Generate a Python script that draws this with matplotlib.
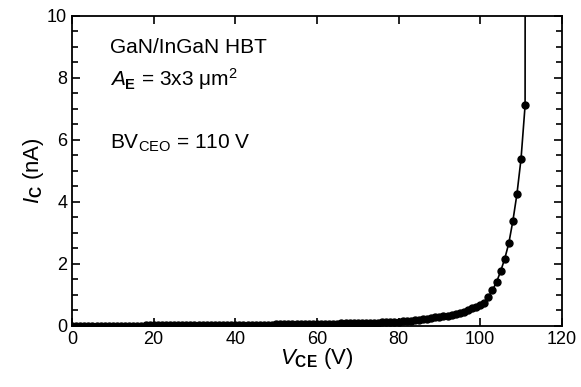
import matplotlib
matplotlib.use("Agg")
import matplotlib.pyplot as plt
from matplotlib.ticker import MultipleLocator

plt.rcParams['font.family'] = ['Liberation Sans', 'DejaVu Sans']
plt.rcParams['mathtext.fontset'] = 'custom'
plt.rcParams['mathtext.rm'] = 'Liberation Sans'
plt.rcParams['mathtext.it'] = 'Liberation Sans:italic'
plt.rcParams['mathtext.bf'] = 'Liberation Sans:bold'

# collector-emitter voltage (V), one point per volt
vce = [0, 1, 2, 3, 4, 5, 6, 7, 8, 9,
       10, 11, 12, 13, 14, 15, 16, 17, 18, 19,
       20, 21, 22, 23, 24, 25, 26, 27, 28, 29,
       30, 31, 32, 33, 34, 35, 36, 37, 38, 39,
       40, 41, 42, 43, 44, 45, 46, 47, 48, 49,
       50, 51, 52, 53, 54, 55, 56, 57, 58, 59,
       60, 61, 62, 63, 64, 65, 66, 67, 68, 69,
       70, 71, 72, 73, 74, 75, 76, 77, 78, 79,
       80, 81, 82, 83, 84, 85, 86, 87, 88, 89,
       90, 91, 92, 93, 94, 95, 96, 97, 98, 99,
       100, 101, 102, 103, 104, 105, 106, 107, 108, 109,
       110, 111]
# collector current (nA)
ic = [0.000, 0.001, 0.002, 0.003, 0.004, 0.005, 0.005, 0.006, 0.006, 0.007,
      0.008, 0.008, 0.009, 0.009, 0.010, 0.010, 0.011, 0.011, 0.012, 0.012,
      0.013, 0.013, 0.014, 0.014, 0.015, 0.015, 0.016, 0.016, 0.017, 0.017,
      0.018, 0.018, 0.019, 0.019, 0.020, 0.020, 0.021, 0.022, 0.023, 0.024,
      0.025, 0.027, 0.029, 0.031, 0.033, 0.035, 0.037, 0.039, 0.041, 0.043,
      0.045, 0.047, 0.049, 0.051, 0.053, 0.055, 0.057, 0.059, 0.061, 0.063,
      0.065, 0.067, 0.069, 0.071, 0.073, 0.075, 0.078, 0.081, 0.084, 0.087,
      0.090, 0.093, 0.096, 0.099, 0.102, 0.105, 0.109, 0.113, 0.118, 0.124,
      0.140, 0.150, 0.160, 0.170, 0.185, 0.200, 0.215, 0.230, 0.250, 0.270,
      0.290, 0.310, 0.330, 0.350, 0.380, 0.420, 0.460, 0.510, 0.560, 0.610,
      0.670, 0.740, 0.930, 1.150, 1.410, 1.760, 2.160, 2.660, 3.380, 4.250,
      5.380, 7.110]
# breakdown: current shoots off-scale just past the last marker
vce_bd = [111, 111.05]
ic_bd = [7.11, 20.0]

fig = plt.figure(figsize=(5.81, 3.87), dpi=100)
ax = fig.add_axes([0.124, 0.158, 0.843, 0.801])

ax.plot(vce, ic, color='black', lw=1.2, marker='o', ms=5, mec='black', mfc='black')
ax.plot(vce_bd, ic_bd, color='black', lw=1.2)

ax.set_xlim(0, 120)
ax.set_ylim(0, 10)
ax.xaxis.set_major_locator(MultipleLocator(20))
ax.yaxis.set_major_locator(MultipleLocator(2))
ax.yaxis.set_minor_locator(MultipleLocator(0.5))
ax.tick_params(which='both', direction='in', top=True, right=True, labelsize=13, width=1.2)
ax.tick_params(which='major', length=6)
ax.tick_params(which='minor', length=4)
for s in ax.spines.values():
    s.set_linewidth(1.3)

ax.set_xlabel(r'$\mathit{V}_{\mathbf{CE}}$ (V)', fontsize=16, labelpad=-1)
ax.set_ylabel(r'$\mathit{I}_{\mathbf{C}}$ (nA)', fontsize=16, labelpad=1)

ax.text(9.2, 8.8, 'GaN/InGaN HBT', fontsize=15, va='baseline')
ax.text(9.2, 7.75, r'$\mathit{A}_{\mathbf{E}}$ = 3x3 μm$^2$', fontsize=15, va='baseline')
ax.text(9.2, 5.7, r'BV$_{\mathrm{CEO}}$ = 110 V', fontsize=15, va='baseline')

fig.savefig('out.png', dpi=100)
